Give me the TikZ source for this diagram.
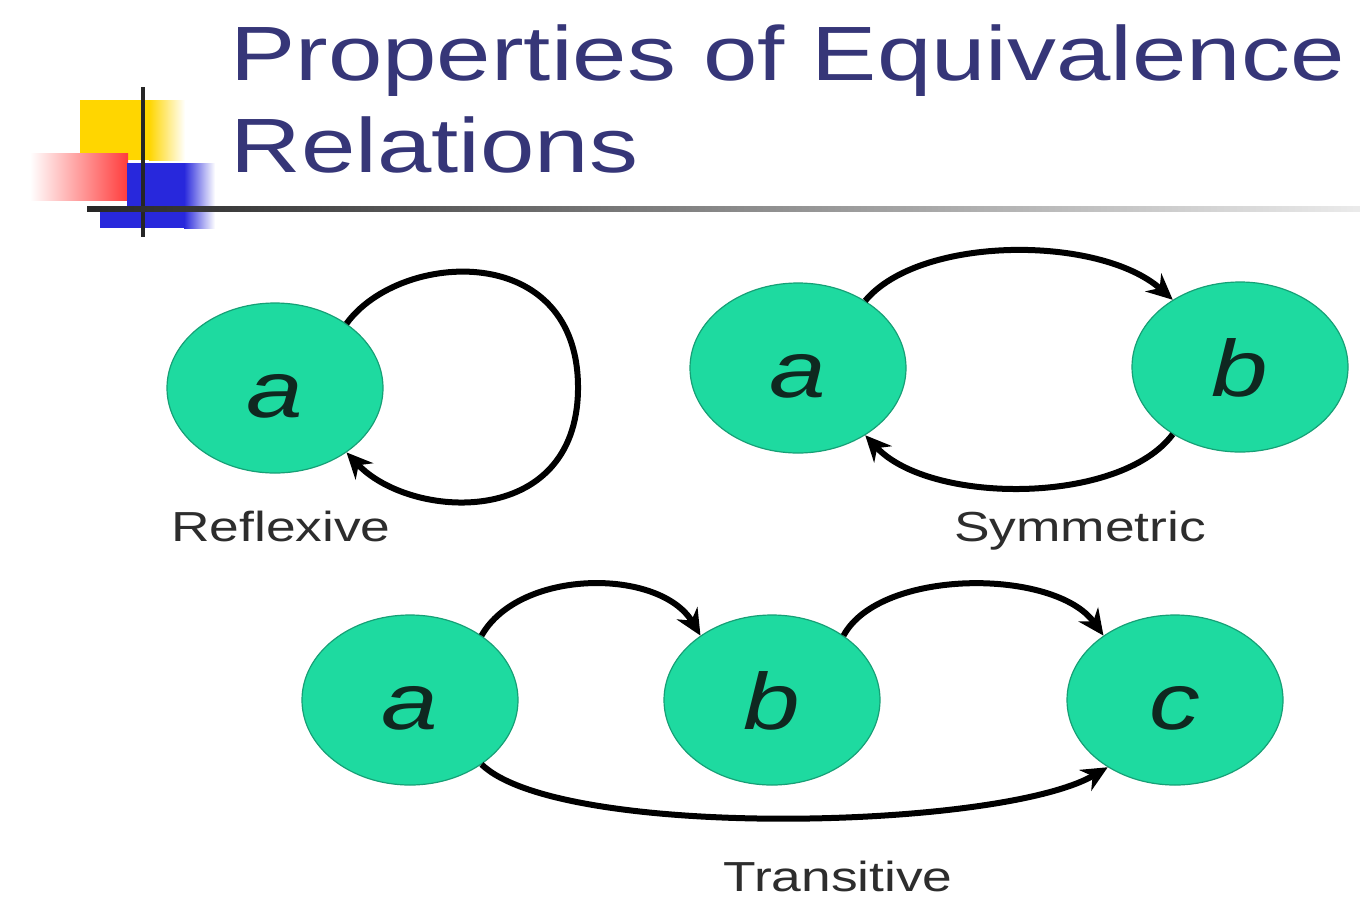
\documentclass[tikz,border=0pt]{standalone}
\usepackage{fontspec}
\setmainfont{Liberation Sans}
\usetikzlibrary{shapes.geometric,arrows.meta}
\definecolor{titleblue}{RGB}{54,54,120}
\definecolor{nodegreen}{RGB}{30,218,160}
\definecolor{nodeedge}{RGB}{22,160,118}
\definecolor{lettercol}{RGB}{15,40,32}
\definecolor{labelgray}{RGB}{45,45,45}
\definecolor{logoyellow}{RGB}{255,214,0}
\definecolor{logored}{RGB}{255,60,60}
\definecolor{logoblue}{RGB}{40,40,220}
\begin{document}
\begin{tikzpicture}[x=0.5pt,y=-0.5pt,
  vert/.style={ellipse, fill=nodegreen, draw=nodeedge, line width=0.6pt,
    minimum width=108pt, minimum height=85pt, inner sep=0pt,
    text height=30pt, text depth=0.7pt, text=lettercol,
    font=\fontsize{40}{40}\selectfont\itshape},
  arr/.style={line width=3pt, -{Stealth[length=13pt,width=12pt]}},
  lbl/.style={anchor=base, inner sep=0pt, text=labelgray, font=\fontsize{21}{21}\selectfont},
  ttl/.style={anchor=base west, inner sep=0pt, text=titleblue, font=\fontsize{38.5}{38.5}\selectfont}]
\useasboundingbox[fill=white] (0,0) rectangle (1360,900);

% logo
\fill[logoyellow] (80,100) rectangle (150,160);
\shade[left color=logoyellow, right color=white] (149,100) rectangle (185,160);
\shade[left color=white, right color=logored] (30,153) rectangle (128,200);
\fill[logoblue] (127,163) rectangle (185,208);
\fill[logoblue] (100,208) rectangle (185,228);
\shade[left color=logoblue, right color=white] (184,163) rectangle (215,228);
\draw[line width=1.6pt, black!85] (143,87) -- (143,237);
\shade[left color=black!85, middle color=black!45, right color=black!8] (87,206) rectangle (1360,211);

% title
\node[ttl] (t1) at (230,80) {\scalebox{1.27}[1]{Properties of Equivalence}};
\node[ttl] (t2) at (230,172) {\scalebox{1.27}[1]{Relations}};

% reflexive
\node[vert] (ra) at (275,388) {\scalebox{1.27}[1]{a}};
\draw[arr] (ra.42) .. controls (400,250) and (580,240) .. (578,390)
  .. controls (576,530) and (410,520) .. (ra.-42);
\node[lbl] (lr) at (281,541) {\scalebox{1.27}[1]{Reflexive}};

% symmetric
\node[vert] (sa) at (798,368) {\scalebox{1.27}[1]{a}};
\node[vert] (sb) at (1240,367) {\scalebox{1.27}[1]{b}};
\draw[arr] (sa.45) .. controls (920,235) and (1100,235) .. (sb.135);
\draw[arr] (sb.-135) .. controls (1120,505) and (930,505) .. (sa.-45);
\node[lbl] (ls) at (1080,541) {\scalebox{1.27}[1]{Symmetric}};

% transitive
\node[vert] (ta) at (410,700) {\scalebox{1.27}[1]{a}};
\node[vert] (tb) at (772,700) {\scalebox{1.27}[1]{b}};
\node[vert] (tc) at (1175,700) {\scalebox{1.27}[1]{c}};
\draw[arr] (ta.42) .. controls (520,568) and (660,568) .. (tb.138);
\draw[arr] (tb.42) .. controls (880,568) and (1055,568) .. (tc.138);
\draw[arr] (ta.-42) .. controls (560,840) and (1000,830) .. (tc.-135);
\node[lbl] (lt) at (838,891) {\scalebox{1.27}[1]{Transitive}};
\end{tikzpicture}
\end{document}
